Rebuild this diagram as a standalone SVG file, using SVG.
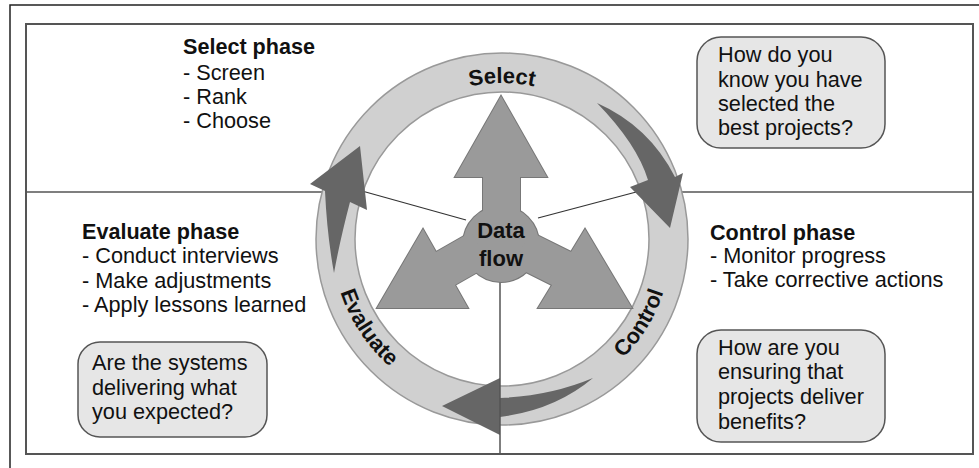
<svg xmlns="http://www.w3.org/2000/svg" width="979" height="468" viewBox="0 0 979 468">
<defs>
<style>
text{font-family:"Liberation Sans",Arial,Helvetica,sans-serif;fill:#111;}
.t{font-size:21.7px;}
.b{font-size:21.6px;font-weight:bold;}
.ring{font-size:22px;font-weight:bold;}
.box{fill:#e6e6e6;stroke:#555;stroke-width:1.5;}
.frame{fill:none;stroke:#555;stroke-width:2;}
.div{stroke:#555;stroke-width:1.5;fill:none;}
.thin{stroke:#333;stroke-width:1.2;fill:none;}
.flow{fill:#9a9a9a;}
.flowline{fill:#9a9a9a;stroke:#777;stroke-width:2;}
.cyc{fill:#666;}
</style>
<path id="arcTop" d="M346,239 A156,156 0 0 1 658,239"/>
<path id="arcBot" d="M332,239 A170,170 0 0 0 672,239"/>
</defs>
<rect x="0" y="0" width="979" height="468" fill="#fff"/>
<g id="frame">
<path d="M10,468 L10,5 L979,5" fill="none" stroke="#222" stroke-width="1.5"/>
<rect class="frame" x="26" y="24" width="947" height="430"/>
<line class="div" x1="26" y1="192" x2="330" y2="192"/>
<line class="div" x1="675" y1="192" x2="973" y2="192"/>
</g>
<g id="cycle-ring">
<circle cx="502" cy="239" r="166.5" fill="none" stroke="#d0d0d0" stroke-width="39"/>
<circle cx="502" cy="239" r="186" fill="none" stroke="#999" stroke-width="1.5"/>
<circle cx="502" cy="239" r="147" fill="none" stroke="#999" stroke-width="1.5"/>
<text class="ring"><textPath href="#arcTop" startOffset="50%" text-anchor="middle">Select</textPath></text>
<text class="ring"><textPath href="#arcBot" startOffset="82.6%" text-anchor="middle">Control</textPath></text>
<text class="ring"><textPath href="#arcBot" startOffset="18.6%" text-anchor="middle">Evaluate</textPath></text>
</g>
<g id="connectors">
<line class="thin" x1="362" y1="191" x2="466" y2="220"/>
<line class="thin" x1="640" y1="191" x2="538" y2="218"/>
<path class="cyc" d="M597,103 Q649,126 675,177 L683,173 L670,228 L630,187 L648,180 Q637,144 597,103 Z"/>
<path class="cyc" d="M500,398 Q550,396 593,378 Q555,410 500,417 L500,435 L442,406 L500,378 Z"/>
<path class="cyc" d="M325,191 L310,184 L360,146 L367,210 L350,202 Q340,240 334,273 Q327,235 325,191 Z"/>
<line class="div" x1="500" y1="282" x2="500" y2="454"/>
</g>
<g id="data-flow">
<g>
<circle class="flowline" cx="501" cy="244" r="38"/>
<polygon class="flowline" points="483,177 455,177 501,96 547,177 520,177 520,220 483,220"/>
<polygon class="flowline" points="436,252 423,229 377,308 468,308 455,285 490,265 471,232"/>
<polygon class="flowline" points="571,252 585,229 632,308 538,308 552,285 512,265 531,232"/>
</g>
<g>
<circle class="flow" cx="501" cy="244" r="38"/>
<polygon class="flow" points="483,177 455,177 501,96 547,177 520,177 520,220 483,220"/>
<polygon class="flow" points="436,252 423,229 377,308 468,308 455,285 490,265 471,232"/>
<polygon class="flow" points="571,252 585,229 632,308 538,308 552,285 512,265 531,232"/>
</g>
<text class="ring" x="501" y="238" text-anchor="middle">Data</text>
<text class="ring" x="501" y="266" text-anchor="middle">flow</text>
</g>
<g id="select-phase">
<text class="b" x="183" y="54">Select phase</text>
<text class="t" x="183" y="80">- Screen</text>
<text class="t" x="183" y="104">- Rank</text>
<text class="t" x="183" y="128">- Choose</text>
</g>
<g id="evaluate-phase">
<text class="b" x="82" y="239">Evaluate phase</text>
<text class="t" x="82" y="263">- Conduct interviews</text>
<text class="t" x="82" y="288">- Make adjustments</text>
<text class="t" x="82" y="312">- Apply lessons learned</text>
</g>
<g id="control-phase">
<text class="b" x="710" y="240">Control phase</text>
<text class="t" x="710" y="263">- Monitor progress</text>
<text class="t" x="710" y="287">- Take corrective actions</text>
</g>
<g id="q-select">
<rect class="box" x="697" y="37" width="188" height="111" rx="24"/>
<text class="t" x="718" y="62">How do you</text>
<text class="t" x="718" y="87">know you have</text>
<text class="t" x="718" y="111">selected the</text>
<text class="t" x="718" y="135">best projects?</text>
</g>
<g id="q-control">
<rect class="box" x="697" y="330" width="188" height="112" rx="24"/>
<text class="t" x="718" y="355">How are you</text>
<text class="t" x="718" y="379">ensuring that</text>
<text class="t" x="718" y="404">projects deliver</text>
<text class="t" x="718" y="429">benefits?</text>
</g>
<g id="q-evaluate">
<rect class="box" x="78" y="342" width="189" height="95" rx="22"/>
<text class="t" x="92" y="370">Are the systems</text>
<text class="t" x="92" y="395">delivering what</text>
<text class="t" x="92" y="419">you expected?</text>
</g>
</svg>
